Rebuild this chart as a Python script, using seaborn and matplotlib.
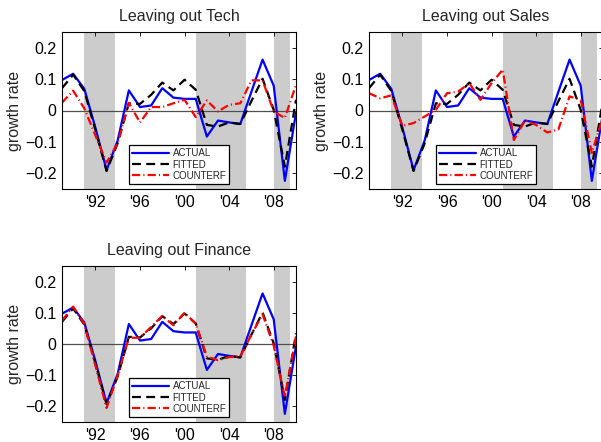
import numpy as np
import pandas as pd
import matplotlib
matplotlib.use("Agg")
import matplotlib.pyplot as plt
import seaborn as sns

# Annual growth rates, 1989-2010
years = list(range(1989, 2011))
actual = [0.097, 0.117, 0.069, -0.055, -0.190, -0.095, 0.064, 0.011, 0.016, 0.071, 0.041,
          0.037, 0.037, -0.083, -0.032, -0.038, -0.043, 0.060, 0.162, 0.079, -0.224, -0.007]
fitted = [0.071, 0.114, 0.062, -0.062, -0.193, -0.104, 0.023, 0.021, 0.050, 0.089, 0.064,
          0.098, 0.066, -0.046, -0.051, -0.038, -0.043, 0.030, 0.101, 0.002, -0.179, 0.034]
cf_tech = [0.025, 0.063, 0.007, -0.080, -0.166, -0.104, 0.024, -0.038, 0.011, 0.011, 0.023,
           0.034, -0.021, 0.032, -0.003, 0.018, 0.023, 0.096, 0.096, -0.003, -0.024, 0.082]
cf_sales = [0.055, 0.039, 0.048, -0.049, -0.040, -0.019, 0.002, 0.055, 0.060, 0.087, 0.034,
            0.087, 0.130, -0.094, -0.032, -0.046, -0.070, -0.060, 0.045, 0.034, -0.135, -0.020]
cf_finance = [0.075, 0.120, 0.065, -0.070, -0.205, -0.100, 0.020, 0.020, 0.055, 0.090, 0.060,
              0.100, 0.065, -0.040, -0.052, -0.042, -0.040, 0.030, 0.095, -0.005, -0.170, 0.025]

recessions = [(1991.0, 1993.75), (2001.0, 2005.5), (2008.0, 2009.5)]
xtick_pos = [1992, 1996, 2000, 2004, 2008]
xtick_labels = ["'92", "'96", "'00", "'04", "'08"]
ytick_pos = [-0.2, -0.1, 0.0, 0.1, 0.2]
ytick_labels = ["\u22120.2", "\u22120.1", "0", "0.1", "0.2"]
series_names = ["ACTUAL", "FITTED", "COUNTERF"]
panel_titles = ["Leaving out Tech", "Leaving out Sales", "Leaving out Finance"]
counterfactuals = [cf_tech, cf_sales, cf_finance]

sns.set_theme(style="white")
plt.rcParams["font.family"] = ["Liberation Sans", "DejaVu Sans"]
plt.rcParams["axes.unicode_minus"] = True

W, H = 601, 442
fig = plt.figure(figsize=(W / 100, H / 100), dpi=100)

# axes boxes in pixels: left, top, right, bottom
boxes = [(62, 32, 296, 189), (369, 32, 603, 189), (62, 266, 296, 422)]

styles = {
    "ACTUAL": dict(color=(0, 0, 1), linestyle="-"),
    "FITTED": dict(color="black", linestyle=(0, (4.0, 2.4))),
    "COUNTERF": dict(color=(1, 0, 0), linestyle=(0, (3.7, 1.4, 0.5, 1.4))),
}

for title, cf, (l, t, r, b) in zip(panel_titles, counterfactuals, boxes):
    ax = fig.add_axes([l / W, 1 - b / H, (r - l) / W, (b - t) / H])
    for a, z in recessions:
        ax.axvspan(a, z, color=(0.8, 0.8, 0.8), lw=0, zorder=0)
    ax.axhline(0, color="#505050", lw=0.9, zorder=1)

    df = pd.DataFrame({"year": years, "ACTUAL": actual, "FITTED": fitted, "COUNTERF": cf})
    for name in series_names:
        sns.lineplot(data=df, x="year", y=name, ax=ax, label=name,
                     linewidth=1.6, zorder=3, **styles[name])

    ax.set_xlim(1989, 2010)
    ax.set_ylim(-0.25, 0.25)
    ax.set_xticks(xtick_pos)
    ax.set_xticklabels(xtick_labels)
    ax.set_yticks(ytick_pos)
    ax.set_yticklabels(ytick_labels)
    ax.set_xlabel("")
    ax.set_ylabel("growth rate", fontsize=11.5, labelpad=2)
    ax.set_title(title, fontsize=11.5, pad=8)
    ax.tick_params(direction="in", top=True, right=True, length=3, width=0.6,
                   labelsize=11.5, colors="black")
    ax.tick_params(axis="y", pad=4)
    ax.tick_params(axis="x", pad=4.5)
    for sp in ax.spines.values():
        sp.set_color("black")
        sp.set_linewidth(0.8)
        sp.set_zorder(5)

    leg = ax.legend(loc="lower center", fontsize=7, frameon=True, fancybox=False,
                    edgecolor="black", framealpha=1, handlelength=3.8,
                    handletextpad=0.4, labelspacing=0.12, borderpad=0.3,
                    borderaxespad=0.55)
    leg.get_frame().set_linewidth(0.9)

fig.savefig("out.png", dpi=100)
